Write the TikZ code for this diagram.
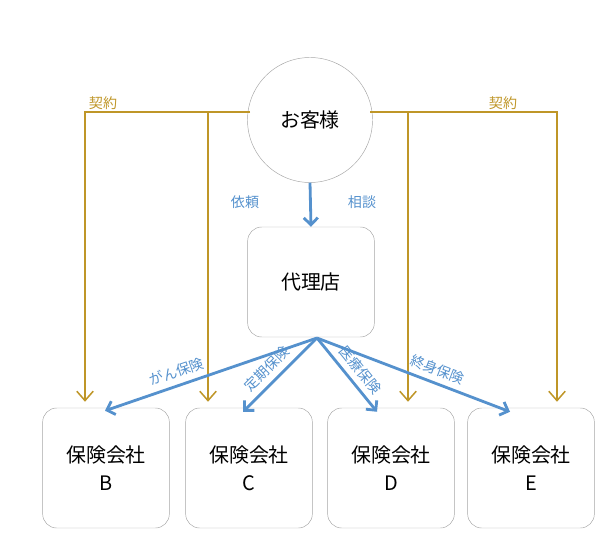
\documentclass[tikz,border=0pt]{standalone}
\usepackage{fontspec}
\newfontfamily\jp{Noto Sans CJK JP}
\usetikzlibrary{arrows.meta,calc}
\definecolor{gold}{RGB}{191,150,40}
\definecolor{sky}{RGB}{85,145,205}
\begin{document}
\begin{tikzpicture}[x=0.03cm, y=-0.03cm, font=\jp]

        % Styles for the boxes and the two kinds of arrows
        \tikzset{
            company/.style={draw=black!35, rounded corners=12pt, minimum width=3.8cm,
                minimum height=3.6cm, align=center, font=\jp\fontsize{17}{24}\selectfont},
            contract/.style={gold, line width=1.3pt, -{Straight Barb[length=8pt, width=14pt]}},
            request/.style={sky, line width=2.4pt, -{Straight Barb[length=6pt, width=12pt]}},
            tag/.style={sky, font=\jp\fontsize{12}{14}\selectfont, inner sep=2pt},
            slopetag/.style={tag, sloped, above, inner sep=5pt}
        }

        \useasboundingbox (0, 0) rectangle (600, 544);

        % Customer, agency and the four companies
        \node[circle, draw=black!35, minimum size=3.75cm, font=\jp\fontsize{17}{20}\selectfont] (cust) at (310, 120) {お客様};
        \node[company, minimum width=3.8cm, minimum height=3.3cm] (agent) at (311, 282) {代理店};
        \node[company] (insB) at (106, 468) {保険会社\\B};
        \node[company] (insC) at (249, 468) {保険会社\\C};
        \node[company] (insD) at (391, 468) {保険会社\\D};
        \node[company] (insE) at (531, 468) {保険会社\\E};

        % Contract lines
        \coordinate (cl) at (250, 112);
        \coordinate (cr) at (370, 112);
        \draw[contract] (cl) -| ($(insB.north) + (-21, -6)$);
        \draw[contract] (208, 112) -- ($(insC.north) + (-41, -6)$);
        \draw[contract] (cr) -| ($(insE.north) + (26, -6)$);
        \draw[contract] (408, 112) -- ($(insD.north) + (17, -6)$);
        \node[gold, font=\jp\fontsize{12}{14}\selectfont] at (103, 103) {契約};
        \node[gold, font=\jp\fontsize{12}{14}\selectfont] at (503, 103) {契約};

        % Requests
        \coordinate (hub) at (317, 338);
        \draw[request] (cust.south) -- (agent.north);
        \node[tag] at (245, 202) {依頼};
        \node[tag] at (362, 202) {相談};
        \draw[request] (hub) -- node[slopetag, pos=0.64] {がん保険} ($(insB.north) + (-1, 3)$);
        \draw[request] (hub) -- node[slopetag, pos=0.55] {定期保険} ($(insC.north) + (-6, 4)$);
        \draw[request] (hub) -- node[slopetag, pos=0.55] {医療保険} ($(insD.north) + (-14, 4)$);
        \draw[request] (hub) -- node[slopetag, pos=0.6] {終身保険} ($(insE.north) + (-21, 4)$);

\end{tikzpicture}
\end{document}
